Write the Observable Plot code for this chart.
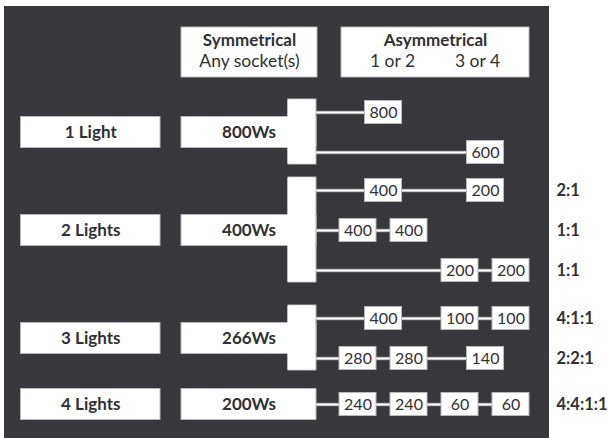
<!DOCTYPE html>
<html>
<head>
<meta charset="utf-8">
<script src="https://cdn.jsdelivr.net/npm/d3@7"></script>
<script src="https://cdn.jsdelivr.net/npm/@observablehq/plot@0.6"></script>
<style>
  html, body { margin: 0; padding: 0; background: #ffffff; }
  #chart svg { display: block; font-family: Lato, "Open Sans", sans-serif; }
</style>
</head>
<body>
<div id="chart"></div>
<script>
// ---- data ----
const lightLabels = ["1 Light", "2 Lights", "3 Lights", "4 Lights"];
const symmetricalWs = ["800Ws", "400Ws", "266Ws", "200Ws"];
const headerTitles = ["Symmetrical", "Asymmetrical"];
const symmetricalSubtitle = "Any socket(s)";
const socketLabels = ["1 or 2", "3 or 4"];
// asymmetrical splits: one entry per line
const splitGroup = [0, 0, 1, 1, 1, 2, 2, 3];
const splitValues = [[800], [600], [400, 200], [400, 400], [200, 200], [400, 100, 100], [280, 280, 140], [240, 240, 60, 60]];
const splitSlots = [[1], [5], [1, 5], [0, 2], [4, 6], [1, 4, 6], [0, 2, 5], [0, 2, 4, 6]];
const splitRatios = ["", "", "2:1", "1:1", "1:1", "4:1:1", "2:2:1", "4:4:1:1"];

// ---- layout (diagram units) ----
const W = 610, H = 438;
const L = {
  panel: {x1: 4, x2: 549, y1: 6, y2: H},
  groupCenter: [132, 230, 338, 404],
  rowPitch: 40,
  label: {x1: 20.5, x2: 160},
  sym: {x1: 181, x2: 316, barX1: 288},
  boxH: 31,
  slot0: 339, slotStep: 25.5, valW: 37, valH: 23,
  ratioX: 556,
  header: {y1: 27, y2: 77, symX1: 181, symX2: 317, asymX1: 341, asymX2: 529, socketX: [392, 477]}
};

// build rows
const rows = splitValues.map((vals, i) => {
  const g = splitGroup[i];
  const inGroup = splitGroup.filter(x => x === g).length;
  const idx = splitGroup.slice(0, i).filter(x => x === g).length;
  const y = L.groupCenter[g] + (idx - (inGroup - 1) / 2) * L.rowPitch;
  return {i, g, y, vals, slots: splitSlots[i], ratio: splitRatios[i]};
});
const boxes = rows.flatMap(r => r.vals.map((v, k) => {
  const x1 = L.slot0 + L.slotStep * r.slots[k];
  return {v, y: r.y, x1, x2: x1 + L.valW, xc: x1 + L.valW / 2};
}));
const lines = rows.map(r => ({y: r.y, x1: L.sym.x2, x2: d3.max(boxes.filter(b => b.y === r.y), b => b.xc)}));
const groups = lightLabels.map((lab, g) => {
  const ys = rows.filter(r => r.g === g).map(r => r.y);
  return {lab, sym: symmetricalWs[g], yc: L.groupCenter[g],
    barY1: ys.length > 1 ? d3.min(ys) - 13 : null, barY2: ys.length > 1 ? d3.max(ys) + 12 : null};
});
const headers = [
  {x1: L.header.symX1, x2: L.header.symX2, title: headerTitles[0]},
  {x1: L.header.asymX1, x2: L.header.asymX2, title: headerTitles[1]}
];
const subLabels = [
  {x: (L.header.symX1 + L.header.symX2) / 2, t: symmetricalSubtitle},
  {x: L.header.socketX[0], t: socketLabels[0]},
  {x: L.header.socketX[1], t: socketLabels[1]}
];

const boxStroke = "#b8b8bb";
const textCol = "#303035";

const chart = Plot.plot({
  width: W, height: H, margin: 0,
  x: {domain: [0, W], range: [0, W]},
  y: {domain: [0, H], range: [0, H]},
  axis: null,
  marks: [
    Plot.rect([L.panel], {x1: "x1", x2: "x2", y1: "y1", y2: "y2", fill: "#38373c"}),
    // headers
    Plot.rect(headers, {x1: "x1", x2: "x2", y1: () => L.header.y1, y2: () => L.header.y2, fill: "#fff", stroke: boxStroke, strokeWidth: 1}),
    Plot.text(headers, {x: d => (d.x1 + d.x2) / 2, y: () => L.header.y1 + 13, text: "title", fontSize: 17, fontWeight: "bold", fill: textCol}),
    Plot.text(subLabels, {x: "x", y: () => L.header.y1 + 34, text: "t", fontSize: 17.5, fill: textCol}),
    // connector lines
    Plot.ruleY(lines, {y: "y", x1: "x1", x2: "x2", stroke: "#8e8d92", strokeWidth: 3.6}),
    Plot.ruleY(lines, {y: "y", x1: "x1", x2: "x2", stroke: "#fff", strokeWidth: 2}),
    // light labels
    Plot.rect(groups, {x1: () => L.label.x1, x2: () => L.label.x2, y1: d => d.yc - L.boxH / 2, y2: d => d.yc + L.boxH / 2, fill: "#fff", stroke: boxStroke}),
    Plot.text(groups, {x: () => (L.label.x1 + L.label.x2) / 2, y: "yc", text: "lab", fontSize: 17, fontWeight: "bold", fill: textCol}),
    // symmetrical boxes + bars
    Plot.rect(groups.filter(d => d.barY1 != null), {x1: () => L.sym.barX1, x2: () => L.sym.x2, y1: "barY1", y2: "barY2", fill: "#fff", stroke: boxStroke}),
    Plot.rect(groups, {x1: () => L.sym.x1, x2: () => L.sym.x2, y1: d => d.yc - L.boxH / 2, y2: d => d.yc + L.boxH / 2, fill: "#fff", stroke: boxStroke}),
    Plot.rect(groups.filter(d => d.barY1 != null), {x1: () => L.sym.barX1 - 1, x2: () => L.sym.x2 - 0.5, y1: "barY1", y2: "barY2", inset: 0.5, fill: "#fff"}),
    Plot.text(groups, {x: () => (L.sym.x1 + L.sym.x2) / 2, y: "yc", text: "sym", fontSize: 17, fontWeight: "bold", fill: textCol}),
    // value boxes
    Plot.rect(boxes, {x1: "x1", x2: "x2", y1: d => d.y - L.valH / 2, y2: d => d.y + L.valH / 2, fill: "#fff", stroke: boxStroke}),
    Plot.text(boxes, {x: "xc", y: "y", text: d => String(d.v), fontSize: 16, fill: textCol}),
    // ratios
    Plot.text(rows.filter(r => r.ratio), {x: () => L.ratioX, y: "y", text: "ratio", textAnchor: "start", fontSize: 16.5, fontWeight: "bold", fill: textCol})
  ]
});
document.getElementById("chart").appendChild(chart);
</script>
</body>
</html>
